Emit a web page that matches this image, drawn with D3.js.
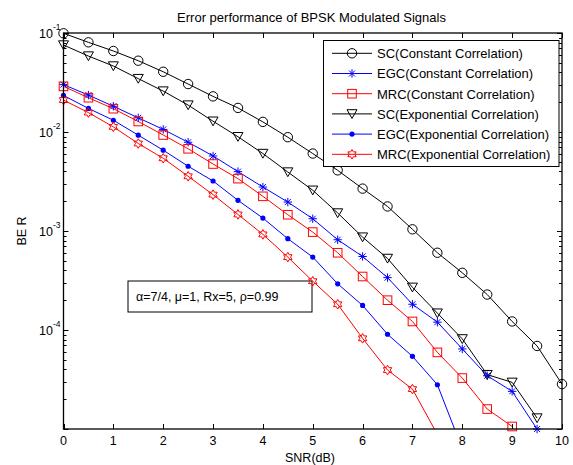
<!DOCTYPE html>
<html>
<head>
<meta charset="utf-8">
<script src="https://cdn.jsdelivr.net/npm/d3@7"></script>
<style>
  html, body { margin: 0; padding: 0; background: #fff; }
  svg { display: block; font-family: "Liberation Sans", Arial, sans-serif; }
</style>
</head>
<body>
<svg id="chart" width="573" height="465"></svg>
<script>
// SNR grid (dB)
const snr = [0, 0.5, 1, 1.5, 2, 2.5, 3, 3.5, 4, 4.5, 5, 5.5, 6, 6.5, 7, 7.5, 8, 8.5, 9, 9.5, 10];

// BER curves
const scConst = [0.0993, 0.0805, 0.0658, 0.0525, 0.0406, 0.0305, 0.0229, 0.0175, 0.01265, 0.00886,
  0.00606, 0.00410, 0.00268, 0.00177, 0.00104, 0.000603, 0.000378, 0.000228, 0.000122, 0.0000690, 0.0000284];
const egcConst = [0.0301, 0.0236, 0.0182, 0.0139, 0.01062, 0.00788, 0.00573, 0.00398, 0.00278, 0.00196,
  0.00133, 0.000816, 0.000553, 0.000338, 0.000182, 0.000120, 0.0000644, 0.0000345, 0.0000240, 0.0000100];
const mrcConst = [0.0289, 0.0222, 0.0172, 0.01277, 0.00933, 0.00677, 0.00475, 0.00338, 0.00224, 0.00146,
  0.000975, 0.000603, 0.000347, 0.000200, 0.000122, 0.0000594, 0.0000327, 0.0000159, 0.0000106];
const scExp = [0.0756, 0.0585, 0.0464, 0.0346, 0.0259, 0.0187, 0.01285, 0.00896, 0.00606, 0.00394,
  0.00258, 0.00152, 0.000867, 0.000528, 0.000270, 0.000148, 0.0000813, 0.0000354, 0.0000296, 0.0000129];
const egcExp = [0.0234, 0.0173, 0.01315, 0.00929, 0.00655, 0.00451, 0.00320, 0.00204, 0.00135, 0.000836,
  0.000545, 0.000293, 0.000177, 0.0000906, 0.0000542, 0.0000280, 0.0000063];
const mrcExp = [0.0210, 0.0157, 0.01127, 0.00765, 0.00543, 0.00357, 0.00233, 0.00147, 0.000924, 0.000545,
  0.000311, 0.000182, 0.0000824, 0.0000394, 0.0000253, 0.0000088];

const seriesNames = [
  "SC(Constant Correlation)", "EGC(Constant Correlation)", "MRC(Constant Correlation)",
  "SC(Exponential Correlation)", "EGC(Exponential Correlation)", "MRC(Exponential Correlation)"
];
const seriesValues = [scConst, egcConst, mrcConst, scExp, egcExp, mrcExp];
const seriesColors = ["#000000", "#0000ff", "#ff0000", "#000000", "#0000ff", "#ff0000"];
const seriesMarkers = ["circle", "asterisk", "square", "triangleDown", "dot", "hexagram"];

const xTicks = [0, 1, 2, 3, 4, 5, 6, 7, 8, 9, 10];
const yTickExps = [-1, -2, -3, -4];

const titleText = "Error performance of BPSK Modulated Signals";
const xLabelText = "SNR(dB)";
const yLabelText = "BE R";
const noteText = "\u03b1=7/4, \u03bc=1, Rx=5, \u03c1=0.99";

// ---- layout ----
const plot = { left: 63.5, right: 562, top: 33, bottom: 429 };
const svg = d3.select("#chart");

const x = d3.scaleLinear().domain([0, 10]).range([plot.left, plot.right]);
const y = d3.scaleLog().domain([1e-5, 1e-1]).range([plot.bottom, plot.top]);

svg.append("defs").append("clipPath").attr("id", "plotClip")
  .append("rect")
  .attr("x", plot.left).attr("y", plot.top)
  .attr("width", plot.right - plot.left).attr("height", plot.bottom - plot.top);

// ---- marker shapes ----
function hexagramPath(R) {
  const r = R / Math.sqrt(3);
  const pts = [];
  for (let i = 0; i < 12; i++) {
    const a = -Math.PI / 2 + i * Math.PI / 6;
    const rad = i % 2 === 0 ? R : r;
    pts.push([rad * Math.cos(a), rad * Math.sin(a)]);
  }
  return "M" + pts.map(p => p[0].toFixed(2) + "," + p[1].toFixed(2)).join("L") + "Z";
}

function drawMarker(g, type, cx, cy, color) {
  const m = g.append("g").attr("transform", `translate(${cx},${cy})`);
  if (type === "circle") {
    m.append("circle").attr("r", 4.7).attr("fill", "none").attr("stroke", color).attr("stroke-width", 1);
  } else if (type === "square") {
    m.append("rect").attr("x", -4.3).attr("y", -4.3).attr("width", 8.6).attr("height", 8.6)
      .attr("fill", "none").attr("stroke", color).attr("stroke-width", 1);
  } else if (type === "triangleDown") {
    m.append("path").attr("d", "M-5,-4.2L5,-4.2L0,4.6Z")
      .attr("fill", "none").attr("stroke", color).attr("stroke-width", 1);
  } else if (type === "dot") {
    m.append("circle").attr("r", 2.6).attr("fill", color).attr("stroke", "none");
  } else if (type === "asterisk") {
    const s = 4.2, d = 3.0;
    m.append("path")
      .attr("d", `M0,${-s}L0,${s}M${-s},0L${s},0M${-d},${-d}L${d},${d}M${-d},${d}L${d},${-d}`)
      .attr("stroke", color).attr("stroke-width", 1).attr("fill", "none");
  } else if (type === "hexagram") {
    m.append("path").attr("d", hexagramPath(4.8))
      .attr("fill", "none").attr("stroke", color).attr("stroke-width", 1);
  }
}

// ---- title & axis labels ----
svg.append("text")
  .attr("x", 311.5).attr("y", 21.5)
  .attr("text-anchor", "middle").attr("font-size", 13).attr("fill", "#000")
  .text(titleText);

svg.append("text")
  .attr("x", 310).attr("y", 461.5)
  .attr("text-anchor", "middle").attr("font-size", 12.5).attr("fill", "#000")
  .text(xLabelText);

svg.append("text")
  .attr("transform", "translate(26,231) rotate(-90)")
  .attr("text-anchor", "middle").attr("font-size", 12.5).attr("fill", "#000")
  .text(yLabelText);

// ---- axes frame & ticks ----
const axisG = svg.append("g").attr("stroke", "#000").attr("stroke-width", 1);

// x ticks (bottom and top, pointing inward)
xTicks.forEach(t => {
  const px = Math.round(x(t)) + 0.5;
  axisG.append("line").attr("x1", px).attr("x2", px).attr("y1", plot.bottom).attr("y2", plot.bottom - 5);
  axisG.append("line").attr("x1", px).attr("x2", px).attr("y1", plot.top).attr("y2", plot.top + 5);
});

// y ticks: majors on the decades, minors on 2..9 within each decade
const yMajor = d3.range(-5, 0).map(e => Math.pow(10, e)).concat([0.1]);
const yMinor = [];
for (let e = -5; e < -1; e++) {
  for (let k = 2; k <= 9; k++) yMinor.push(k * Math.pow(10, e));
}
yMajor.forEach(v => {
  const py = Math.round(y(v)) + 0.5;
  axisG.append("line").attr("x1", plot.left).attr("x2", plot.left + 5).attr("y1", py).attr("y2", py);
  axisG.append("line").attr("x1", plot.right).attr("x2", plot.right - 5).attr("y1", py).attr("y2", py);
});
yMinor.forEach(v => {
  const py = Math.round(y(v)) + 0.5;
  axisG.append("line").attr("x1", plot.left).attr("x2", plot.left + 3).attr("y1", py).attr("y2", py);
  axisG.append("line").attr("x1", plot.right).attr("x2", plot.right - 3).attr("y1", py).attr("y2", py);
});

// x tick labels
svg.append("g").selectAll("text").data(xTicks).join("text")
  .attr("x", d => x(d)).attr("y", 444.5)
  .attr("text-anchor", "middle").attr("font-size", 12.5).attr("fill", "#000")
  .text(d => d);

// y tick labels 10^e
const yLab = svg.append("g");
yTickExps.forEach(e => {
  const py = y(Math.pow(10, e));
  const t = yLab.append("text")
    .attr("x", 60.5).attr("y", py + 5)
    .attr("text-anchor", "end").attr("font-size", 12.5).attr("fill", "#000");
  t.append("tspan").text("10");
  t.append("tspan").attr("dy", -8).attr("font-size", 8.5).text(String(e));
});

// annotation box with channel parameters
const note = svg.append("g");
note.append("rect")
  .attr("x", 128).attr("y", 281).attr("width", 184).attr("height", 31)
  .attr("fill", "#fff").attr("stroke", "#000").attr("stroke-width", 1);
note.append("text")
  .attr("x", 136).attr("y", 300.5)
  .attr("font-size", 12.5).attr("fill", "#000")
  .text(noteText);

// ---- series ----
const dataG = svg.append("g").attr("clip-path", "url(#plotClip)");
const line = d3.line().x(d => x(d[0])).y(d => y(d[1]));

seriesValues.forEach((vals, i) => {
  const pts = vals.map((v, j) => [snr[j], v]);
  dataG.append("path")
    .attr("d", line(pts))
    .attr("fill", "none").attr("stroke", seriesColors[i]).attr("stroke-width", 1);
});
seriesValues.forEach((vals, i) => {
  vals.forEach((v, j) => {
    if (v >= 0.95e-5) drawMarker(svg, seriesMarkers[i], x(snr[j]), y(v), seriesColors[i]);
  });
});

// outer frame on top
svg.append("rect")
  .attr("x", plot.left).attr("y", plot.top)
  .attr("width", plot.right - plot.left).attr("height", plot.bottom - plot.top)
  .attr("fill", "none").attr("stroke", "#000").attr("stroke-width", 1.3);

// ---- legend ----
const leg = svg.append("g");
leg.append("rect")
  .attr("x", 323.5).attr("y", 40.5).attr("width", 235.5).attr("height", 126)
  .attr("fill", "#fff").attr("stroke", "#000").attr("stroke-width", 1);
seriesNames.forEach((name, i) => {
  const ly = 53.3 + i * 20.2;
  leg.append("line")
    .attr("x1", 332).attr("x2", 372).attr("y1", ly).attr("y2", ly)
    .attr("stroke", seriesColors[i]).attr("stroke-width", 1);
  drawMarker(leg, seriesMarkers[i], 352, ly, seriesColors[i]);
  leg.append("text")
    .attr("x", 377).attr("y", ly + 4.8)
    .attr("font-size", 13).attr("fill", "#000")
    .text(name);
});
</script>
</body>
</html>
